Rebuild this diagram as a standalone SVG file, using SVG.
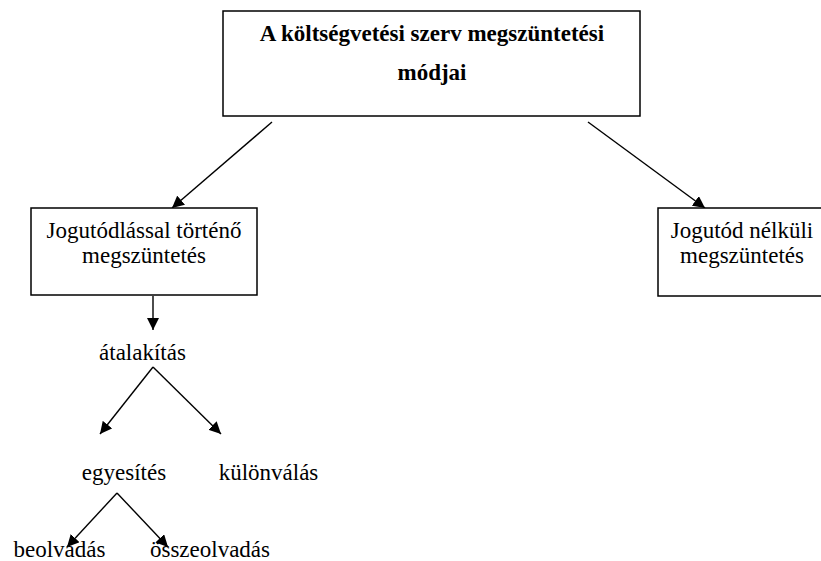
<svg xmlns="http://www.w3.org/2000/svg" width="821" height="561" viewBox="0 0 821 561">
<style>
.box{fill:#fff;stroke:#000;stroke-width:1.5}
.t{font-family:"Liberation Serif","Times New Roman",serif;font-size:23px;fill:#000;text-anchor:middle}
.b{font-weight:bold}
.c{stroke:#000;stroke-width:1.4;fill:none;marker-end:url(#ah)}
</style>
<defs>
<marker id="ah" viewBox="0 0 10 10" refX="10" refY="5" markerWidth="12" markerHeight="12" markerUnits="userSpaceOnUse" orient="auto">
<path d="M0,0 L10,5 L0,10 z" fill="#000"/>
</marker>
</defs>
<rect width="821" height="561" fill="#fff"/>
<g id="connectors">
<line class="c" x1="272" y1="122" x2="172" y2="208"/>
<line class="c" x1="588" y1="122" x2="705" y2="208"/>
<line class="c" x1="153" y1="296" x2="153" y2="330"/>
<line class="c" x1="153" y1="367" x2="100" y2="434"/>
<line class="c" x1="153" y1="367" x2="221" y2="434"/>
<line class="c" x1="117" y1="493" x2="67" y2="547"/>
<line class="c" x1="117" y1="493" x2="168" y2="547"/>
</g>
<g id="root">
<rect class="box" x="223" y="11" width="417" height="105"/>
<text class="t b" x="432" y="41">A költségvetési szerv megszüntetési</text>
<text class="t b" x="432" y="80">módjai</text>
</g>
<g id="jogutodlassal">
<rect class="box" x="31" y="208" width="226" height="87"/>
<text class="t" x="144" y="238">Jogutódlással történő</text>
<text class="t" x="144" y="263">megszüntetés</text>
</g>
<g id="jogutod-nelkuli">
<rect class="box" x="658" y="208" width="170" height="88"/>
<text class="t" x="742" y="238">Jogutód nélküli</text>
<text class="t" x="742" y="263">megszüntetés</text>
</g>
<g id="atalakitas"><text class="t" x="142.5" y="360">átalakítás</text></g>
<g id="egyesites"><text class="t" x="124" y="480">egyesítés</text></g>
<g id="kulonvalas"><text class="t" x="268.5" y="480">különválás</text></g>
<g id="beolvadas"><text class="t" x="59.5" y="557">beolvadás</text></g>
<g id="osszeolvadas"><text class="t" x="210" y="557">összeolvadás</text></g>
</svg>
